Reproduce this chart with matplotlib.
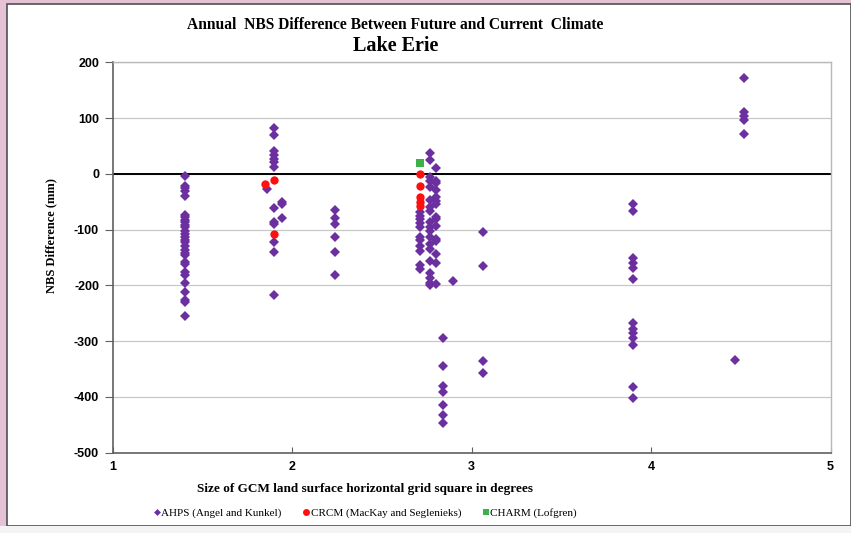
import matplotlib
matplotlib.use('Agg')
import matplotlib.pyplot as plt
from matplotlib.patches import Rectangle
from matplotlib.lines import Line2D

plt.rcParams['axes.unicode_minus'] = False

# AHPS (Angel and Kunkel): grid size -> NBS differences (mm)
ahps_sizes = [1.40, 1.86, 1.90, 1.94, 2.24, 2.71, 2.765, 2.80, 2.84, 2.895, 3.06, 3.90, 4.47, 4.52]
ahps_140 = [-3, -21, -25, -31, -40, -73, -78, -83, -87, -92, -96, -102, -107, -113, -119,
            -123, -130, -136, -142, -146, -158, -161, -176, -181, -196, -212, -226, -229, -254]
ahps_186 = [-28]
ahps_190 = [83, 70, 41, 33, 27, 21, 13, -61, -87, -90, -123, -140, -218]
ahps_194 = [-50, -54, -80]
ahps_224 = [-65, -80, -90, -113, -140, -181]
ahps_271 = [-69, -75, -81, -89, -95, -114, -119, -129, -138, -163, -171]
ahps_2765 = [37, 24, -6, -12, -23, -47, -59, -66, -87, -95, -102, -113, -125, -134,
             -156, -178, -186, -196, -199]
ahps_280 = [10, -12, -16, -29, -42, -48, -54, -78, -81, -93, -116, -120, -143, -159, -198]
ahps_284 = [-294, -345, -380, -391, -415, -433, -447]
ahps_2895 = [-192]
ahps_306 = [-104, -165, -335, -357]
ahps_390 = [-54, -66, -151, -160, -169, -189, -267, -279, -286, -295, -307, -383, -402]
ahps_447 = [-333]
ahps_452 = [172, 110, 103, 96, 71]
ahps_values = [ahps_140, ahps_186, ahps_190, ahps_194, ahps_224, ahps_271, ahps_2765,
               ahps_280, ahps_284, ahps_2895, ahps_306, ahps_390, ahps_447, ahps_452]

# CRCM (MacKay and Seglenieks)
crcm_x = [1.85, 1.90, 1.90, 2.71, 2.71, 2.71, 2.71, 2.71]
crcm_y = [-18, -11, -108, -1, -22, -42, -50, -57]

# CHARM (Lofgren)
charm_x = [2.71]
charm_y = [20]

x_ticks = [1, 2, 3, 4, 5]
y_ticks = [-500, -400, -300, -200, -100, 0, 100, 200]

purple = '#6B2FA0'
red = '#FF1010'
green = '#3DB04A'

W, H = 851, 533
fig = plt.figure(figsize=(W / 100, H / 100), dpi=100, facecolor='#E5C2D6')

# white panel with dark frame (behind the axes)
fig.patches.append(Rectangle((7 / W, 7 / H), 1 - 7 / W, 1 - 11 / H, transform=fig.transFigure,
                             facecolor='white', edgecolor='#505050', linewidth=1.2, zorder=-2))
fig.patches.append(Rectangle((0, 0), 1, 7 / H, transform=fig.transFigure,
                             facecolor='#F4F4F4', edgecolor='none', zorder=-2))

ax = fig.add_axes([113 / W, 1 - 452.7 / H, (830.5 - 113) / W, (452.7 - 62.3) / H])
ax.set_facecolor('white')

for size, vals in zip(ahps_sizes, ahps_values):
    ax.plot([size] * len(vals), vals, linestyle='none', marker='D', markersize=4.6,
            color=purple, markeredgewidth=0, zorder=3)
ax.plot(crcm_x, crcm_y, linestyle='none', marker='o', markersize=6,
        color=red, markeredgewidth=0, zorder=4)
ax.plot(charm_x, charm_y, linestyle='none', marker='s', markersize=6.2,
        color=green, markeredgewidth=0, zorder=4)

ax.axhline(0, color='black', linewidth=1.4, zorder=2)
ax.set_xlim(1, 5)
ax.set_ylim(-500, 200)
ax.set_xticks(x_ticks)
ax.set_yticks(y_ticks)
ax.yaxis.grid(True, color='#C8C8C8', linewidth=0.9)
ax.set_axisbelow(True)

for side in ['left', 'bottom']:
    ax.spines[side].set_color('#606060')
    ax.spines[side].set_linewidth(1.2)
for side in ['top', 'right']:
    ax.spines[side].set_color('#B8B8B8')
    ax.spines[side].set_linewidth(1.0)

ax.tick_params(axis='y', direction='out', length=6, color='#606060', pad=4)
ax.tick_params(axis='x', direction='in', length=4, color='#606060', pad=6)
for lbl in ax.get_xticklabels() + ax.get_yticklabels():
    lbl.set_fontfamily('Liberation Sans')
    lbl.set_fontweight('bold')
    lbl.set_fontsize(9)

ax.set_ylabel('NBS Difference (mm)', fontfamily='Liberation Serif', fontweight='bold',
              fontsize=9, labelpad=10)
ax.yaxis.set_label_coords(-0.078, 0.555)

fig.text(395 / W, 1 - 25 / H, 'Annual  NBS Difference Between Future and Current  Climate',
         ha='center', va='center', fontfamily='Liberation Serif', fontweight='bold', fontsize=11.2)
fig.text(396 / W, 1 - 46 / H, 'Lake Erie', ha='center', va='center',
         fontfamily='Liberation Serif', fontweight='bold', fontsize=14.5)
fig.text(365 / W, 1 - 489 / H, 'Size of GCM land surface horizontal grid square in degrees',
         ha='center', va='center', fontfamily='Liberation Serif', fontweight='bold', fontsize=9.5)

handles = [
    Line2D([], [], linestyle='none', marker='D', markersize=3.5, color=purple, markeredgewidth=0),
    Line2D([], [], linestyle='none', marker='o', markersize=5, color=red, markeredgewidth=0),
    Line2D([], [], linestyle='none', marker='s', markersize=5, color=green, markeredgewidth=0),
]
labels = ['AHPS (Angel and Kunkel)', 'CRCM (MacKay and Seglenieks)', 'CHARM (Lofgren)']
fig.legend(handles, labels, loc='center', bbox_to_anchor=(364 / W, 1 - 513 / H), ncol=3,
           frameon=False, handletextpad=-0.1, columnspacing=1.7, handlelength=1.0,
           prop={'family': 'Liberation Serif', 'size': 8})

fig.savefig('out.png', dpi=100, facecolor=fig.get_facecolor())
